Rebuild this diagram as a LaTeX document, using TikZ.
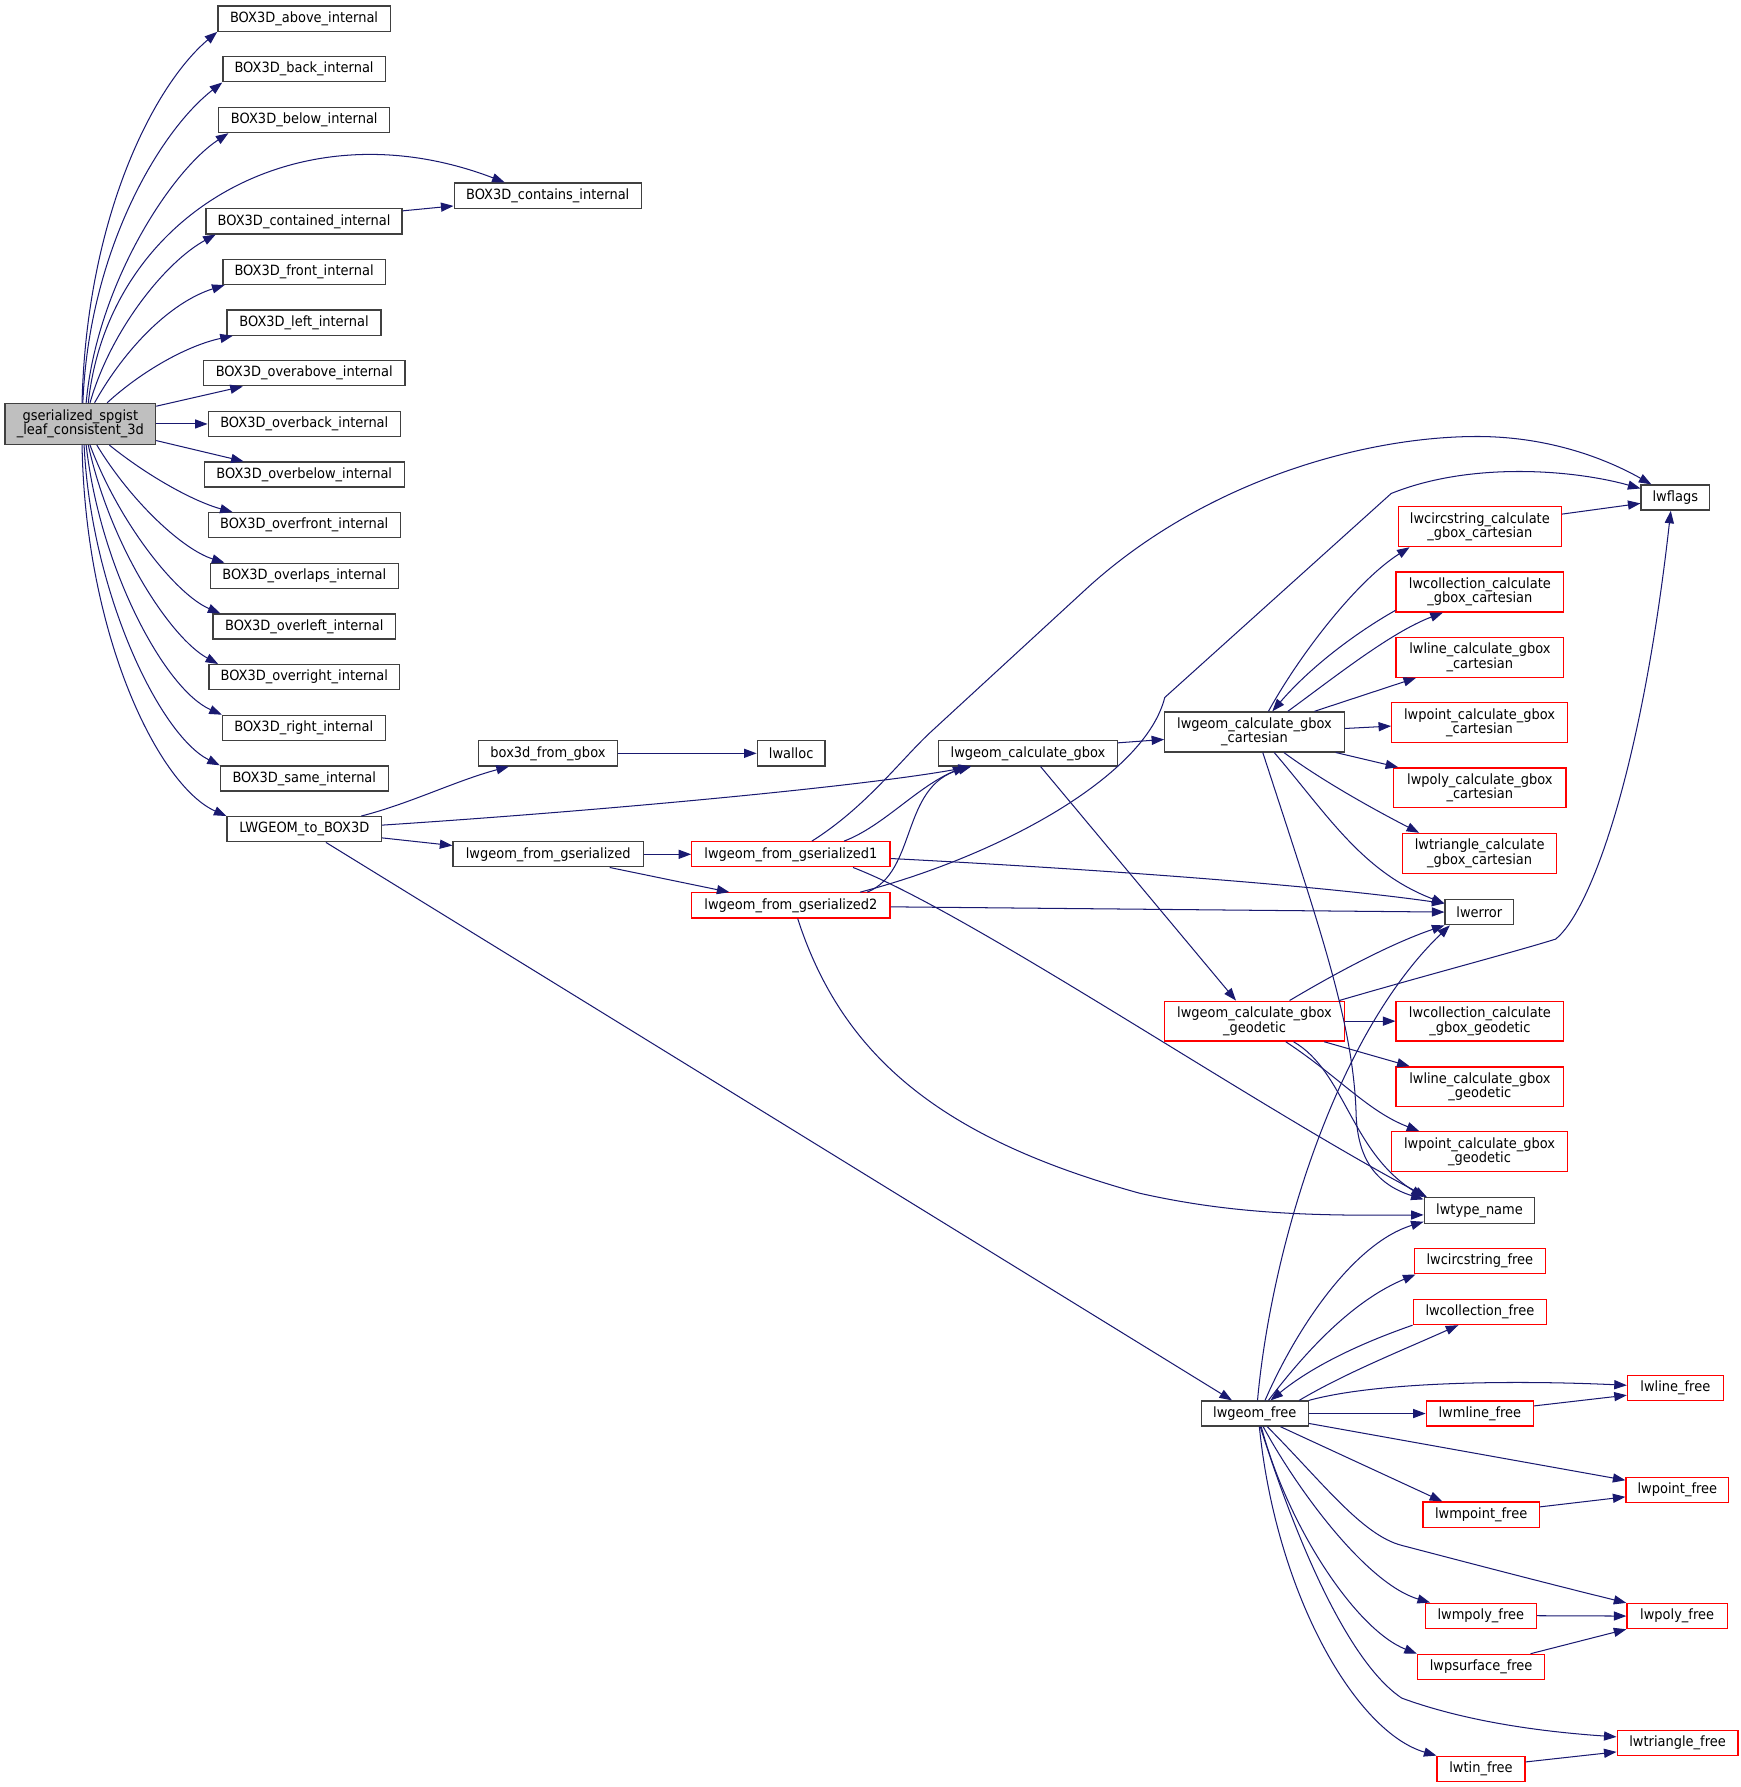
\documentclass[tikz,border=0pt]{standalone}
\usepackage{fontspec}
\setmainfont{DejaVu Sans}[FakeStretch=0.92]
\usetikzlibrary{arrows.meta}
\definecolor{edgecol}{HTML}{191970}
\definecolor{boxgray}{HTML}{404040}
\definecolor{boxred}{HTML}{FF0000}
\definecolor{mainfill}{HTML}{BFBFBF}
\begin{document}
\begin{tikzpicture}[x=1pt,y=-1pt,
  fnbox/.style={draw=boxgray,line width=1.15pt,fill=white,inner sep=0pt,minimum height=22pt,align=center,font=\fontsize{12.4}{12.6}\selectfont},
  rdbox/.style={fnbox,draw=boxred},
  tall/.style={minimum height=35pt},
  callarrow/.style={draw=edgecol,line width=0.9pt,-{Triangle[length=11pt,width=8pt]}}]
\useasboundingbox (0,0) rectangle (1527,1568);
% ---------- nodes ----------
\node[fnbox,fill=mainfill,minimum width=132pt,minimum height=36pt] (main) at (70.5,372) {gserialized\_spgist\\\_leaf\_consistent\_3d};
\node[fnbox,minimum width=151.3pt] (nabove) at (266.8,16.4) {BOX3D\_above\_internal};
\node[fnbox,minimum width=142.4pt] (nback) at (266.8,60.8) {BOX3D\_back\_internal};
\node[fnbox,minimum width=150pt] (nbelow) at (267,105.3) {BOX3D\_below\_internal};
\node[fnbox,minimum width=164.2pt,minimum height=22.5pt] (ncontains) at (480.6,171.8) {BOX3D\_contains\_internal};
\node[fnbox,minimum width=172pt] (ncontained) at (266.8,194.2) {BOX3D\_contained\_internal};
\node[fnbox,minimum width=142.4pt] (nfront) at (266.8,238.6) {BOX3D\_front\_internal};
\node[fnbox,minimum width=135pt] (nleft) at (266.8,283.1) {BOX3D\_left\_internal};
\node[fnbox,minimum width=176.8pt] (noverabove) at (267,327.5) {BOX3D\_overabove\_internal};
\node[fnbox,minimum width=168.6pt] (noverback) at (267,372) {BOX3D\_overback\_internal};
\node[fnbox,minimum width=175.3pt] (noverbelow) at (267,416.4) {BOX3D\_overbelow\_internal};
\node[fnbox,minimum width=168.6pt] (noverfront) at (267,460.9) {BOX3D\_overfront\_internal};
\node[fnbox,minimum width=165pt] (noverlaps) at (267,505.3) {BOX3D\_overlaps\_internal};
\node[fnbox,minimum width=160pt] (noverleft) at (267,549.8) {BOX3D\_overleft\_internal};
\node[fnbox,minimum width=167pt] (noverright) at (267,594.2) {BOX3D\_overright\_internal};
\node[fnbox,minimum width=142.8pt] (nright) at (266.6,638.7) {BOX3D\_right\_internal};
\node[fnbox,minimum width=147.2pt] (nsame) at (267,683.1) {BOX3D\_same\_internal};
\node[fnbox,minimum width=135.4pt] (nlwgbox) at (267,727.6) {LWGEOM\_to\_BOX3D};
\node[fnbox,minimum width=121.8pt] (nbox3d) at (480.8,661) {box3d\_from\_gbox};
\node[fnbox,minimum width=59.5pt] (nlwalloc) at (694.2,661) {lwalloc};
\node[fnbox,minimum width=167pt] (nfrom0) at (481,749.6) {lwgeom\_from\_gserialized};
\node[rdbox,minimum width=174pt] (nfrom1) at (694,749.6) {lwgeom\_from\_gserialized1};
\node[rdbox,minimum width=174pt] (nfrom2) at (694,794.4) {lwgeom\_from\_gserialized2};
\node[fnbox,minimum width=156.6pt] (ncalc) at (902,661) {lwgeom\_calculate\_gbox};
\node[fnbox,tall,minimum width=157.5pt] (ncart) at (1100.8,642.2) {lwgeom\_calculate\_gbox\\\_cartesian};
\node[rdbox,tall,minimum width=157.5pt] (ngeod) at (1100.8,896) {lwgeom\_calculate\_gbox\\\_geodetic};
\node[fnbox,minimum width=94pt] (nfree) at (1101,1240.3) {lwgeom\_free};
\node[rdbox,tall,minimum width=143pt] (ncircc) at (1298.5,462.1) {lwcircstring\_calculate\\\_gbox\_cartesian};
\node[rdbox,tall,minimum width=147pt] (ncollc) at (1298.5,519.5) {lwcollection\_calculate\\\_gbox\_cartesian};
\node[rdbox,tall,minimum width=147pt] (nlinec) at (1298.5,576.7) {lwline\_calculate\_gbox\\\_cartesian};
\node[rdbox,tall,minimum width=154pt] (npointc) at (1298.2,634.2) {lwpoint\_calculate\_gbox\\\_cartesian};
\node[rdbox,tall,minimum width=151pt] (npolyc) at (1298.5,691.3) {lwpoly\_calculate\_gbox\\\_cartesian};
\node[rdbox,tall,minimum width=135pt] (ntric) at (1298.3,748.8) {lwtriangle\_calculate\\\_gbox\_cartesian};
\node[fnbox,minimum width=60pt,minimum height=22.2pt] (nerror) at (1298,800.3) {lwerror};
\node[rdbox,tall,minimum width=147pt] (ncollg) at (1298.5,896) {lwcollection\_calculate\\\_gbox\_geodetic};
\node[rdbox,tall,minimum width=147pt] (nlineg) at (1298.5,953.6) {lwline\_calculate\_gbox\\\_geodetic};
\node[rdbox,tall,minimum width=154pt] (npointg) at (1298.2,1010.6) {lwpoint\_calculate\_gbox\\\_geodetic};
\node[fnbox,minimum width=97pt,minimum height=22.6pt] (ntype) at (1298.2,1062.3) {lwtype\_name};
\node[rdbox,minimum width=115pt] (ncircf) at (1298.5,1106.7) {lwcircstring\_free};
\node[rdbox,minimum width=117pt] (ncollf) at (1298.5,1151.2) {lwcollection\_free};
\node[rdbox,minimum width=94pt] (nmlinef) at (1298.5,1240.3) {lwmline\_free};
\node[rdbox,minimum width=102pt] (nmpointf) at (1299.6,1329) {lwmpoint\_free};
\node[rdbox,minimum width=97.5pt] (nmpolyf) at (1299.3,1417.7) {lwmpoly\_free};
\node[rdbox,minimum width=111.6pt] (npsurff) at (1299.6,1462.6) {lwpsurface\_free};
\node[rdbox,minimum width=77pt] (ntinf) at (1299.5,1552) {lwtin\_free};
\node[fnbox,minimum width=60pt] (nflags) at (1470,436.6) {lwflags};
\node[rdbox,minimum width=84pt] (nlinef) at (1470,1218) {lwline\_free};
\node[rdbox,minimum width=90pt] (npointf) at (1471.8,1307.2) {lwpoint\_free};
\node[rdbox,minimum width=88pt] (npolyf) at (1471.6,1418) {lwpoly\_free};
\node[rdbox,minimum width=106pt] (ntrif) at (1472,1529.4) {lwtriangle\_free};
% ---------- edges from the root ----------
\draw[callarrow] ([xshift=1.5pt]main.north) .. controls (76,190) and (135,75) .. (nabove.south west);
\draw[callarrow] ([xshift=2.2pt]main.north) .. controls (78,220) and (140,115) .. (nback.south west);
\draw[callarrow] ([xshift=5.1pt]main.north) .. controls (85,250) and (150,150) .. ([xshift=9pt]nbelow.south west);
\draw[callarrow] ([xshift=7pt]main.north) .. controls (95,190) and (260,90) .. ([xshift=-37.8pt]ncontains.north);
\draw[callarrow] ([xshift=8.5pt]main.north) .. controls (97,290) and (145,230) .. ([xshift=9pt]ncontained.south west);
\draw[callarrow] ([xshift=12.5pt]main.north) .. controls (110,305) and (150,265) .. ([xshift=2pt]nfront.south west);
\draw[callarrow] ([xshift=23.5pt]main.north) .. controls (125,325) and (165,303) .. ([xshift=5.5pt]nleft.south west);
\draw[callarrow] ([yshift=-3pt]main.north east) -- ([xshift=35pt]noverabove.south west);
\draw[callarrow] (main.east) -- (noverback.west);
\draw[callarrow] ([yshift=4pt]main.south east) -- ([xshift=35pt]noverbelow.north west);
\draw[callarrow] ([xshift=25.5pt]main.south) .. controls (130,418) and (170,440) .. ([xshift=22pt]noverfront.north west);
\draw[callarrow] ([xshift=14.5pt]main.south) .. controls (115,440) and (160,482) .. ([xshift=13pt]noverlaps.north west);
\draw[callarrow] ([xshift=8.5pt]main.south) .. controls (105,460) and (155,522) .. ([xshift=7pt]noverleft.north west);
\draw[callarrow] ([xshift=7pt]main.south) .. controls (97,480) and (150,560) .. ([xshift=8.5pt]noverright.north west);
\draw[callarrow] ([xshift=5.1pt]main.south) .. controls (88,500) and (145,605) .. (nright.north west);
\draw[callarrow] ([xshift=3.3pt]main.south) .. controls (80,520) and (140,645) .. (nsame.north west);
\draw[callarrow] ([xshift=1.5pt]main.south) .. controls (75,560) and (140,690) .. (nlwgbox.north west);
\draw[callarrow] ([yshift=9.2pt]ncontained.east) -- ([yshift=-8.9pt]ncontains.west);
% ---------- LWGEOM_to_BOX3D ----------
\draw[callarrow] ([xshift=50pt]nlwgbox.north) .. controls (360,705) and (400,685) .. ([xshift=-34.3pt]nbox3d.south);
\draw[callarrow] ([yshift=3.6pt]nlwgbox.east) .. controls (520,712) and (760,690) .. ([xshift=-50pt]ncalc.south);
\draw[callarrow] ([yshift=-7.6pt]nlwgbox.east) -- ([yshift=7.7pt]nfrom0.west);
\draw[callarrow] ([xshift=19pt]nlwgbox.south) -- ([xshift=-20pt]nfree.north);
\draw[callarrow] (nbox3d.east) -- (nlwalloc.west);
\draw[callarrow] (nfrom0.east) -- (nfrom1.west);
\draw[callarrow] ([xshift=54pt]nfrom0.south) -- ([xshift=-54pt]nfrom2.north);
% ---------- from1 ----------
\draw[callarrow] ([xshift=46.6pt]nfrom1.north) .. controls (775,725) and (805,690) .. ([xshift=-54.8pt]ncalc.south);
\draw[callarrow] ([xshift=18.4pt]nfrom1.north) .. controls (760,708) and (790,667) .. (817,642) -- (955,515) .. controls (1060,420) and (1200,383) .. (1296,383) .. controls (1360,383) and (1410,403) .. ([xshift=-21pt]nflags.north);
\draw[callarrow] ([yshift=-3.7pt]nfrom1.east) .. controls (950,762) and (1150,776) .. ([yshift=7.6pt]nerror.west);
\draw[callarrow] ([xshift=54.5pt]nfrom1.south) .. controls (850,800) and (1100,970) .. ([xshift=3pt]ntype.north west);
% ---------- from2 ----------
\draw[callarrow] ([xshift=66.9pt]nfrom2.north) .. controls (805,765) and (790,690) .. ([xshift=-50pt]ncalc.south);
\draw[callarrow] ([xshift=60.7pt]nfrom2.north) .. controls (880,750) and (1005,680) .. (1022,612) -- (1220.7,433) .. controls (1290,405) and (1380,412) .. ([yshift=8pt]nflags.west);
\draw[callarrow] ([yshift=-1.3pt]nfrom2.east) -- (nerror.west);
\draw[callarrow] ([xshift=5.9pt]nfrom2.south) .. controls (740,930) and (830,1000) .. (1000,1047) .. controls (1080,1065) and (1150,1067) .. ([yshift=-3.7pt]ntype.west);
% ---------- lwgeom_calculate_gbox ----------
\draw[callarrow] ([yshift=9.2pt]ncalc.east) -- ([yshift=-6.6pt]ncart.west);
\draw[callarrow] ([xshift=11pt]ncalc.south) -- ([xshift=-16.3pt]ngeod.north);
% ---------- cartesian ----------
\draw[callarrow] ([xshift=12.2pt]ncart.north) .. controls (1140,575) and (1190,510) .. ([xshift=10.4pt]ncircc.south west);
\draw[callarrow] ([yshift=2pt]ncollc.south west) .. controls (1190,555) and (1150,585) .. ([xshift=15.6pt]ncart.north);
\draw[callarrow] ([xshift=29.2pt]ncart.north) .. controls (1170,595) and (1220,555) .. ([xshift=-32.5pt]ncollc.south);
\draw[callarrow] ([xshift=52.6pt]ncart.north) -- ([xshift=-56pt]nlinec.south);
\draw[callarrow] ([yshift=3pt]ncart.east) -- ([yshift=-2.9pt]npointc.west);
\draw[callarrow] ([xshift=71.2pt]ncart.south) -- ([xshift=4.4pt]npolyc.north west);
\draw[callarrow] ([xshift=25.7pt]ncart.south) .. controls (1160,685) and (1205,710) .. ([xshift=15pt]ntric.north west);
\draw[callarrow] ([xshift=17.2pt]ncart.south) .. controls (1165,715) and (1195,765) .. ([yshift=7.6pt]nerror.west);
\draw[callarrow] ([xshift=7.2pt]ncart.south) .. controls (1160,820) and (1188,900) .. (1190,980) .. controls (1192,1020) and (1210,1040) .. ([yshift=-2pt]ntype.north west);
\draw[callarrow] ([yshift=11pt]ncircc.east) -- ([yshift=-5.1pt]nflags.west);
% ---------- geodetic ----------
\draw[callarrow] ([xshift=30.7pt]ngeod.north) .. controls (1170,855) and (1220,828) .. (nerror.south west);
\draw[callarrow] ([xshift=74.2pt]ngeod.north) .. controls (1250,856) and (1330,835) .. (1365,824) .. controls (1395,800) and (1440,680) .. ([xshift=-4pt]nflags.south);
\draw[callarrow] (ngeod.east) -- (ncollg.west);
\draw[callarrow] ([xshift=61.1pt]ngeod.south) -- ([xshift=12.4pt]nlineg.north west);
\draw[callarrow] ([xshift=27.4pt]ngeod.south) .. controls (1175,945) and (1200,975) .. ([xshift=24.7pt]npointg.north west);
\draw[callarrow] ([xshift=34.2pt]ngeod.south) .. controls (1180,940) and (1185,1010) .. (ntype.north west);
% ---------- lwgeom_free ----------
\draw[callarrow] ([xshift=2.4pt]nfree.north) .. controls (1115,1100) and (1170,910) .. ([xshift=4.7pt]nerror.south west);
\draw[callarrow] ([xshift=9pt]nfree.north) .. controls (1140,1160) and (1190,1090) .. ([yshift=-9.7pt]ntype.west);
\draw[callarrow] ([xshift=12pt]nfree.north) .. controls (1150,1180) and (1190,1140) .. ([xshift=1.6pt]ncircf.south west);
\draw[callarrow] (ncollf.south west) .. controls (1190,1180) and (1150,1200) .. ([xshift=13.8pt]nfree.north);
\draw[callarrow] ([xshift=39pt]nfree.north) .. controls (1180,1205) and (1230,1185) .. ([xshift=-18.9pt]ncollf.south);
\draw[callarrow] (nfree.north east) .. controls (1210,1212) and (1330,1211) .. ([yshift=2.5pt]nlinef.west);
\draw[callarrow] (nfree.east) -- (nmlinef.west);
\draw[callarrow] ([yshift=6.7pt]nmlinef.east) -- ([yshift=-6.2pt]nlinef.west);
\draw[callarrow] ([yshift=-8.7pt]nfree.east) -- ([yshift=8.4pt]npointf.west);
\draw[callarrow] ([xshift=22.6pt]nfree.south) -- ([xshift=-34.1pt]nmpointf.north);
\draw[callarrow] ([yshift=6.8pt]nmpointf.east) -- ([yshift=-6.2pt]npointf.west);
\draw[callarrow] ([xshift=11pt]nfree.south) .. controls (1160,1300) and (1195,1347) .. (1230,1356) .. controls (1295,1373) and (1360,1390) .. (npolyf.north west);
\draw[callarrow] ([xshift=7.4pt]nfree.south) .. controls (1140,1310) and (1200,1390) .. ([xshift=4.8pt]nmpolyf.north west);
\draw[callarrow] (nmpolyf.east) -- (npolyf.west);
\draw[callarrow] ([xshift=5.7pt]nfree.south) .. controls (1130,1340) and (1190,1430) .. (npsurff.north west);
\draw[callarrow] ([xshift=43.4pt]npsurff.north) -- (npolyf.south west);
\draw[callarrow] ([xshift=4.8pt]nfree.south) .. controls (1140,1360) and (1185,1460) .. (1230,1490) .. controls (1290,1512) and (1360,1520) .. ([yshift=5.4pt]ntrif.west);
\draw[callarrow] ([xshift=4pt]nfree.south) .. controls (1120,1400) and (1190,1520) .. (ntinf.north west);
\draw[callarrow] ([yshift=6pt]ntinf.east) -- ([yshift=-7.8pt]ntrif.west);
\end{tikzpicture}
\end{document}
